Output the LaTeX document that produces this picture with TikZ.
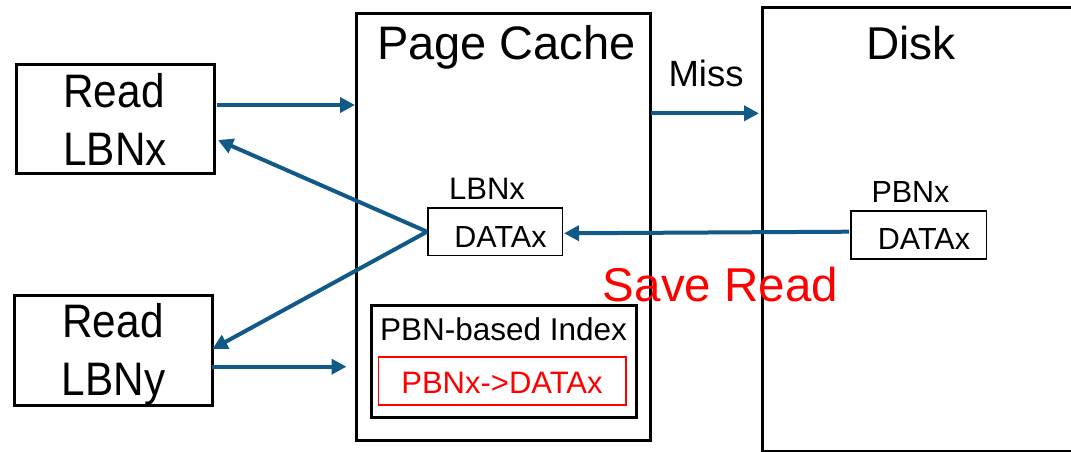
\documentclass[tikz,border=0pt]{standalone}
\usepackage{fontspec}
\setmainfont{Liberation Sans}
\usetikzlibrary{arrows.meta}

\definecolor{flowblue}{RGB}{17,89,135}
\definecolor{hotred}{RGB}{255,0,0}

\newcommand{\fsz}[1]{\fontsize{#1}{#1}\selectfont}

\tikzset{
  thickbox/.style={draw=black, line width=3pt, inner sep=0pt},
  thinbox/.style={draw=black, line width=1.6pt, inner sep=0pt},
  redbox/.style={draw=hotred, line width=1.6pt, inner sep=0pt},
  label/.style={anchor=base, inner sep=0pt, text=black},
  flow/.style={draw=flowblue, line width=4pt,
    -{Triangle[length=15pt,width=15pt]}},
}

\begin{document}
\begin{tikzpicture}[x=1pt, y=-1pt]
  \useasboundingbox (0,0) rectangle (1071,451);

  % request boxes on the left
  \node[thickbox, minimum width=197.5pt, minimum height=109pt] (readx) at (115.3,119.2) {};
  \node[thickbox, minimum width=197.5pt, minimum height=109.6pt] (ready) at (113.3,350.5) {};
  \node[label] (readxa) at (114,107.5) {\fsz{47}\scalebox{0.9}[1]{Read}};
  \node[label] (readxb) at (115,165) {\fsz{47}\scalebox{0.9}[1]{LBNx}};
  \node[label] (readya) at (113,337.5) {\fsz{47}\scalebox{0.9}[1]{Read}};
  \node[label] (readyb) at (113.5,395) {\fsz{47}\scalebox{0.9}[1]{LBNy}};

  % page cache
  \node[thickbox, minimum width=294pt, minimum height=427pt] (cache) at (503,227) {};
  \node[label] (cachet) at (506.5,59) {\fsz{47}Page Cache};
  \node[label] (cachelbn) at (487,199) {\fsz{31}LBNx};
  \node[thinbox, minimum width=134.7pt, minimum height=47.7pt] (cdata) at (495.2,231.7) {};
  \node[label] (cdatat) at (500.5,247) {\fsz{30.5}DATAx};

  % PBN-based index inside the cache
  \node[thickbox, minimum width=265.5pt, minimum height=112.2pt] (index) at (503.8,361.4) {};
  \node[label] (indext) at (503.5,340.7) {\fsz{31.5}PBN-based Index};
  \node[redbox, minimum width=247.4pt, minimum height=47.9pt] (entry) at (502,380.8) {};
  \node[label, text=hotred] (entryt) at (502,393) {\fsz{31}PBNx->DATAx};

  % disk
  \node[thickbox, minimum width=318pt, minimum height=444pt] (disk) at (921,229) {};
  \node[label] (diskt) at (911,59) {\fsz{46}Disk};
  \node[label] (diskpbn) at (910.5,202.5) {\fsz{30.5}PBNx};
  \node[thinbox, minimum width=135.6pt, minimum height=48pt] (ddata) at (918.8,235.2) {};
  \node[label] (ddatat) at (924,249) {\fsz{30.5}DATAx};

  % free labels
  \node[label] (miss) at (706,86) {\fsz{36.5}Miss};
  \node[label, text=hotred] (save) at (720.5,301) {\fsz{47.5}Save Read};

  % connector end points
  \coordinate (rxout) at (216.5,105);
  \coordinate (rxin)  at (355,105);
  \coordinate (rxback) at (218,140);
  \coordinate (ryback) at (212.5,349);
  \coordinate (ryout) at (212,366.7);
  \coordinate (ryin)  at (346.5,366.7);
  \coordinate (missout) at (651,113.3);
  \coordinate (missin)  at (759,113.3);
  \coordinate (dout) at (849,231.7);
  \coordinate (din)  at (564,233.3);

  % connectors
  \draw[flow] (rxout) -- (rxin);
  \draw[flow] (ryout) -- (ryin);
  \draw[flow] (missout) -- (missin);
  \draw[flow] (dout) -- (din);
  \draw[flow] (cdata.west) -- (rxback);
  \draw[flow] (cdata.west) -- (ryback);
\end{tikzpicture}
\end{document}
